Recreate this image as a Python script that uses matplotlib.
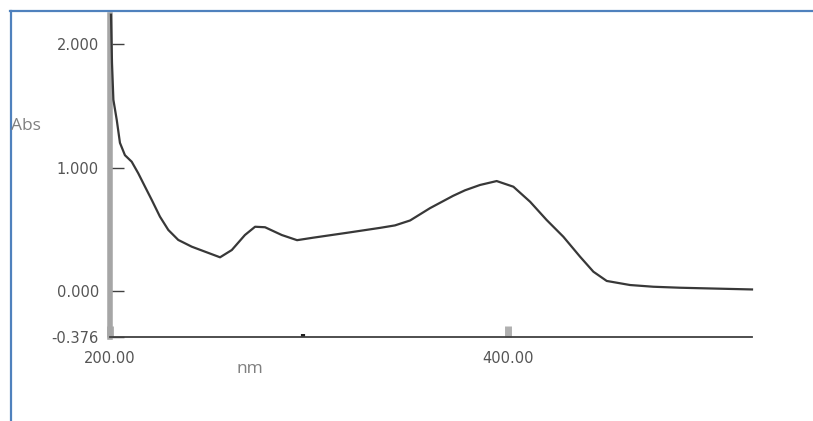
import numpy as np
import matplotlib
matplotlib.use("Agg")
import matplotlib.pyplot as plt
from matplotlib.lines import Line2D

# spectrum
wavelength = [200.5, 201.0, 201.7, 203.4, 205.0, 207.5, 210.9, 214.2, 217.6, 221.0,
              225.1, 229.3, 234.3, 241.1, 247.7, 255.3, 261.2, 267.8, 272.9, 277.9,
              286.3, 294.0, 302.0, 319.1, 335.7, 343.2, 350.8, 360.8, 372.4, 378.4,
              385.9, 394.3, 402.7, 411.1, 419.4, 427.8, 436.2, 442.9, 449.6, 461.3,
              473.0, 486.4, 496.5, 522.6]
absorbance = [2.24, 1.85, 1.55, 1.385, 1.20, 1.10, 1.047, 0.953, 0.844, 0.736,
              0.601, 0.493, 0.412, 0.357, 0.317, 0.271, 0.330, 0.452, 0.519, 0.515,
              0.452, 0.41, 0.43, 0.47, 0.51, 0.53, 0.57, 0.67, 0.77, 0.815,
              0.858, 0.890, 0.844, 0.722, 0.574, 0.438, 0.276, 0.154, 0.079, 0.046,
              0.032, 0.024, 0.02, 0.01]

y_ticks = [2.0, 1.0, 0.0, -0.376]
y_labels = ["2.000", "1.000", "0.000", "-0.376"]
x_ticks = [200, 400]
x_labels = ["200.00", "400.00"]
x_minor = [297]

W, H = 813, 421
fig = plt.figure(figsize=(W / 100, H / 100), dpi=100)
ax = fig.add_axes([110 / W, (H - 337) / H, 642 / W, 322 / H])

ax.plot(wavelength, absorbance, color="#383838", lw=1.6, zorder=3, clip_on=False,
        solid_joinstyle="round")

ax.set_xlim(200, 522.6)
ax.set_ylim(-0.376, 2.238)

ax.spines["top"].set_visible(False)
ax.spines["right"].set_visible(False)
ax.spines["left"].set_color("#a6a6a6")
ax.spines["left"].set_linewidth(4)
ax.spines["bottom"].set_color("#404040")
ax.spines["bottom"].set_linewidth(1.3)

ax.set_yticks(y_ticks)
ax.set_yticklabels(y_labels)
ax.tick_params(axis="y", direction="in", length=10, width=1, color="#404040",
               pad=8, labelsize=10.5, labelcolor="#555555")

ax.set_xticks(x_ticks)
ax.set_xticklabels(x_labels)
ax.set_xticks(x_minor, minor=True)
ax.tick_params(axis="x", which="major", direction="in", length=8, width=5,
               color="#b0b0b0", pad=10, labelsize=10.5, labelcolor="#555555")
ax.tick_params(axis="x", which="minor", direction="in", length=2.5, width=3,
               color="#202020")

fig.text(11 / W, 1 - 126 / H, "Abs", family="Open Sans", fontsize=12.5,
         color="#7f7f7f", ha="left", va="center")
fig.text(250 / W, 1 - 369 / H, "nm", family="Open Sans", fontsize=12.5,
         color="#7f7f7f", ha="center", va="center")

# blue frame on the left and top edges
blue = "#4f81bd"
fig.add_artist(Line2D([11 / W, 11 / W], [0, 1 - 11 / H], color=blue, lw=1.6,
                      transform=fig.transFigure))
fig.add_artist(Line2D([10 / W, 1], [1 - 11 / H, 1 - 11 / H], color=blue, lw=1.6,
                      transform=fig.transFigure))

fig.savefig("out.png", dpi=100)
